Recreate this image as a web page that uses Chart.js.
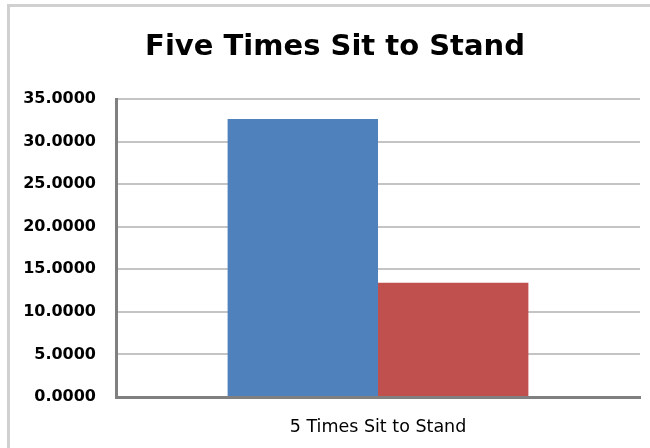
<!DOCTYPE html>
<html>
<head>
<meta charset="utf-8">
<script src="https://cdn.jsdelivr.net/npm/chart.js@4"></script>
<style>
  html, body { margin: 0; padding: 0; background: #fff; overflow: hidden; }
  #frame { position: absolute; left: 7px; top: 4px; width: 700px; height: 500px; border: 3px solid #d0d0d0; }
  #wrap { position: absolute; left: 0; top: 0; width: 650px; height: 448px; }
</style>
</head>
<body>
<div id="frame"></div>
<div id="wrap"><canvas id="grafico"></canvas></div>
<script>
// dados do grafico
const titulo = 'Five Times Sit to Stand';
const categorias = ['5 Times Sit to Stand'];
const serie1 = [32.66];
const serie2 = [13.43];
const ticksY = [0, 5, 10, 15, 20, 25, 30, 35];

// titulo desenhado a mao, um pouco deslocado para a direita como no original
const tituloPlugin = {
    id: 'tituloPlugin',
    afterDraw: function(chart) {
        const c = chart.ctx;
        c.save();
        c.fillStyle = '#000';
        c.font = 'bold 29px "DejaVu Sans"';
        c.textAlign = 'center';
        c.textBaseline = 'middle';
        c.fillText(titulo, 335, 47);
        c.restore();
    }
};

const ctx = document.getElementById('grafico');

new Chart(ctx, {
    type: 'bar',
    data: {
        labels: categorias,
        datasets: [{
            label: 'Series1',
            data: serie1,
            backgroundColor: '#4F81BD'
        }, {
            label: 'Series2',
            data: serie2,
            backgroundColor: '#C0504D'
        }]
    },
    options: {
        responsive: true,
        maintainAspectRatio: false,
        animation: false,
        categoryPercentage: 0.574,
        barPercentage: 1,
        layout: { padding: { left: 0, right: 10, top: 99, bottom: 0 } },
        plugins: {
            legend: { display: false },
            tooltip: { enabled: false },
            title: { display: false }
        },
        scales: {
            x: {
                grid: { display: false },
                border: { display: true, color: '#808080', width: 3 },
                ticks: {
                    color: '#000',
                    font: { family: 'DejaVu Sans', size: 17.5 },
                    padding: 12
                },
                afterFit: function(s) { s.height = 51; }
            },
            y: {
                min: 0,
                max: 35,
                afterBuildTicks: function(s) {
                    s.ticks = ticksY.map(function(v) { return { value: v }; });
                },
                grid: { color: '#c4c4c4', lineWidth: 2, drawTicks: false },
                border: { display: true, color: '#808080', width: 3 },
                ticks: {
                    color: '#000',
                    font: { family: 'DejaVu Sans', size: 16, weight: 'bold' },
                    padding: 20,
                    callback: function(v) { return Number(v).toFixed(4); }
                },
                afterFit: function(s) { s.width = 116; }
            }
        }
    },
    plugins: [tituloPlugin]
});
</script>
</body>
</html>
